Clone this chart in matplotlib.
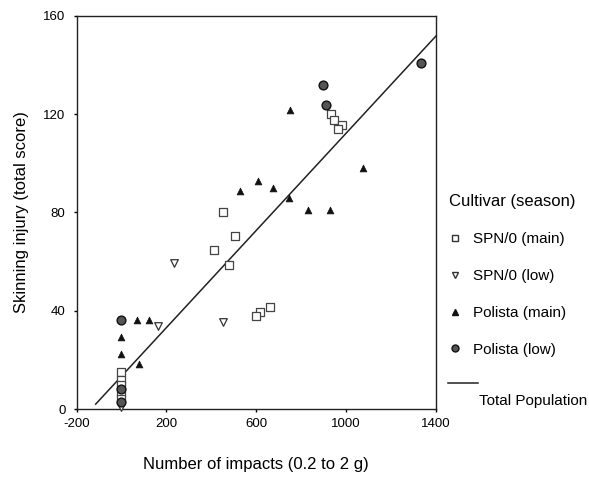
import numpy as np
import matplotlib.pyplot as plt
from matplotlib.lines import Line2D

plt.rcParams['font.family'] = ['Liberation Sans', 'DejaVu Sans']
plt.rcParams['axes.unicode_minus'] = False

# SPN/0 (main season)
spn_main_x = [453, 504, 411, 480, 661, 616, 598, 931, 946, 981, 963, 0, 0, 0, 0, 0]
spn_main_y = [80.1, 70.6, 64.8, 58.7, 41.7, 39.6, 38.0, 120.0, 117.6, 115.4, 113.8, 15.2, 12, 10, 7, 4]

# SPN/0 (low season)
spn_low_x = [235, 161, 453, 0, 0, 0]
spn_low_y = [59.3, 33.9, 35.6, 9, 5, 1]

# Polista (main season)
pol_main_x = [750, 1074, 606, 530, 674, 744, 831, 928, 67, 123, 0, 0, 77]
pol_main_y = [121.7, 98.0, 92.9, 88.9, 89.8, 86.0, 81.0, 81.0, 36.3, 36.3, 29.3, 22.5, 18.3]

# Polista (low season)
pol_low_x = [1336, 897, 910, 0, 0, 0]
pol_low_y = [140.7, 131.8, 123.7, 36.3, 8, 3]

# total population regression line
fit_intercept = 13.4
fit_slope = 0.0988
fit_range = [-115, 1407]

xticks = [-200, 200, 600, 1000, 1400]
yticks = [0, 40, 80, 120, 160]

fig = plt.figure(figsize=(5.89, 4.78), dpi=100)
ax = fig.add_axes([0.130, 0.144, 0.610, 0.823])

fx = np.array(fit_range)
ax.plot(fx, fit_intercept + fit_slope * fx, color='#222222', lw=1.1, zorder=2)

ax.scatter(spn_low_x, spn_low_y, marker='v', s=30, facecolor='white',
           edgecolor='#333333', linewidth=0.9, zorder=3, clip_on=False)
ax.scatter(spn_main_x, spn_main_y, marker='s', s=36, facecolor='white',
           edgecolor='#444444', linewidth=0.9, zorder=3, clip_on=False)
ax.scatter(pol_main_x, pol_main_y, marker='^', s=24, facecolor='#111111',
           edgecolor='#111111', linewidth=0.5, zorder=4, clip_on=False)
ax.scatter(pol_low_x, pol_low_y, marker='o', s=40, facecolor='#555555',
           edgecolor='#111111', linewidth=1.0, zorder=4, clip_on=False)

ax.set_xlim(-200, 1400)
ax.set_ylim(0, 160)
ax.set_xticks(xticks)
ax.set_yticks(yticks)
ax.tick_params(direction='out', length=2, width=1, labelsize=9.5)
ax.tick_params(axis='y', pad=6)
ax.tick_params(axis='x', pad=4)
for sp in ax.spines.values():
    sp.set_linewidth(1.0)
    sp.set_color('#222222')

ax.set_xlabel("Number of impacts (0.2 to 2 g)", fontsize=12, labelpad=20)
ax.set_ylabel("Skinning injury (total score)", fontsize=12, labelpad=10)

handles = [
    Line2D([], [], ls='', marker='s', ms=5, mfc='white', mec='#333333'),
    Line2D([], [], ls='', marker='v', ms=5, mfc='white', mec='#333333'),
    Line2D([], [], ls='', marker='^', ms=5, mfc='#111111', mec='#111111'),
    Line2D([], [], ls='', marker='o', ms=5, mfc='#555555', mec='#111111'),
]
labels = ["SPN/0 (main)", "SPN/0 (low)", "Polista (main)", "Polista (low)"]
leg = fig.legend(handles, labels, loc='upper left',
                 bbox_to_anchor=(0.752, 1 - 188 / 478), frameon=False,
                 title="Cultivar (season)", title_fontsize=12, fontsize=11,
                 handlelength=0.8, handletextpad=0.8, labelspacing=1.5,
                 borderaxespad=0)
leg._legend_box.align = 'left'

fig.add_artist(Line2D([448 / 589, 478 / 589], [1 - 383 / 478] * 2,
                      color='#222222', lw=1.1))
fig.text(479 / 589, 1 - 401 / 478, "Total Population", fontsize=11, va='center')

fig.savefig("out.png", dpi=100)
